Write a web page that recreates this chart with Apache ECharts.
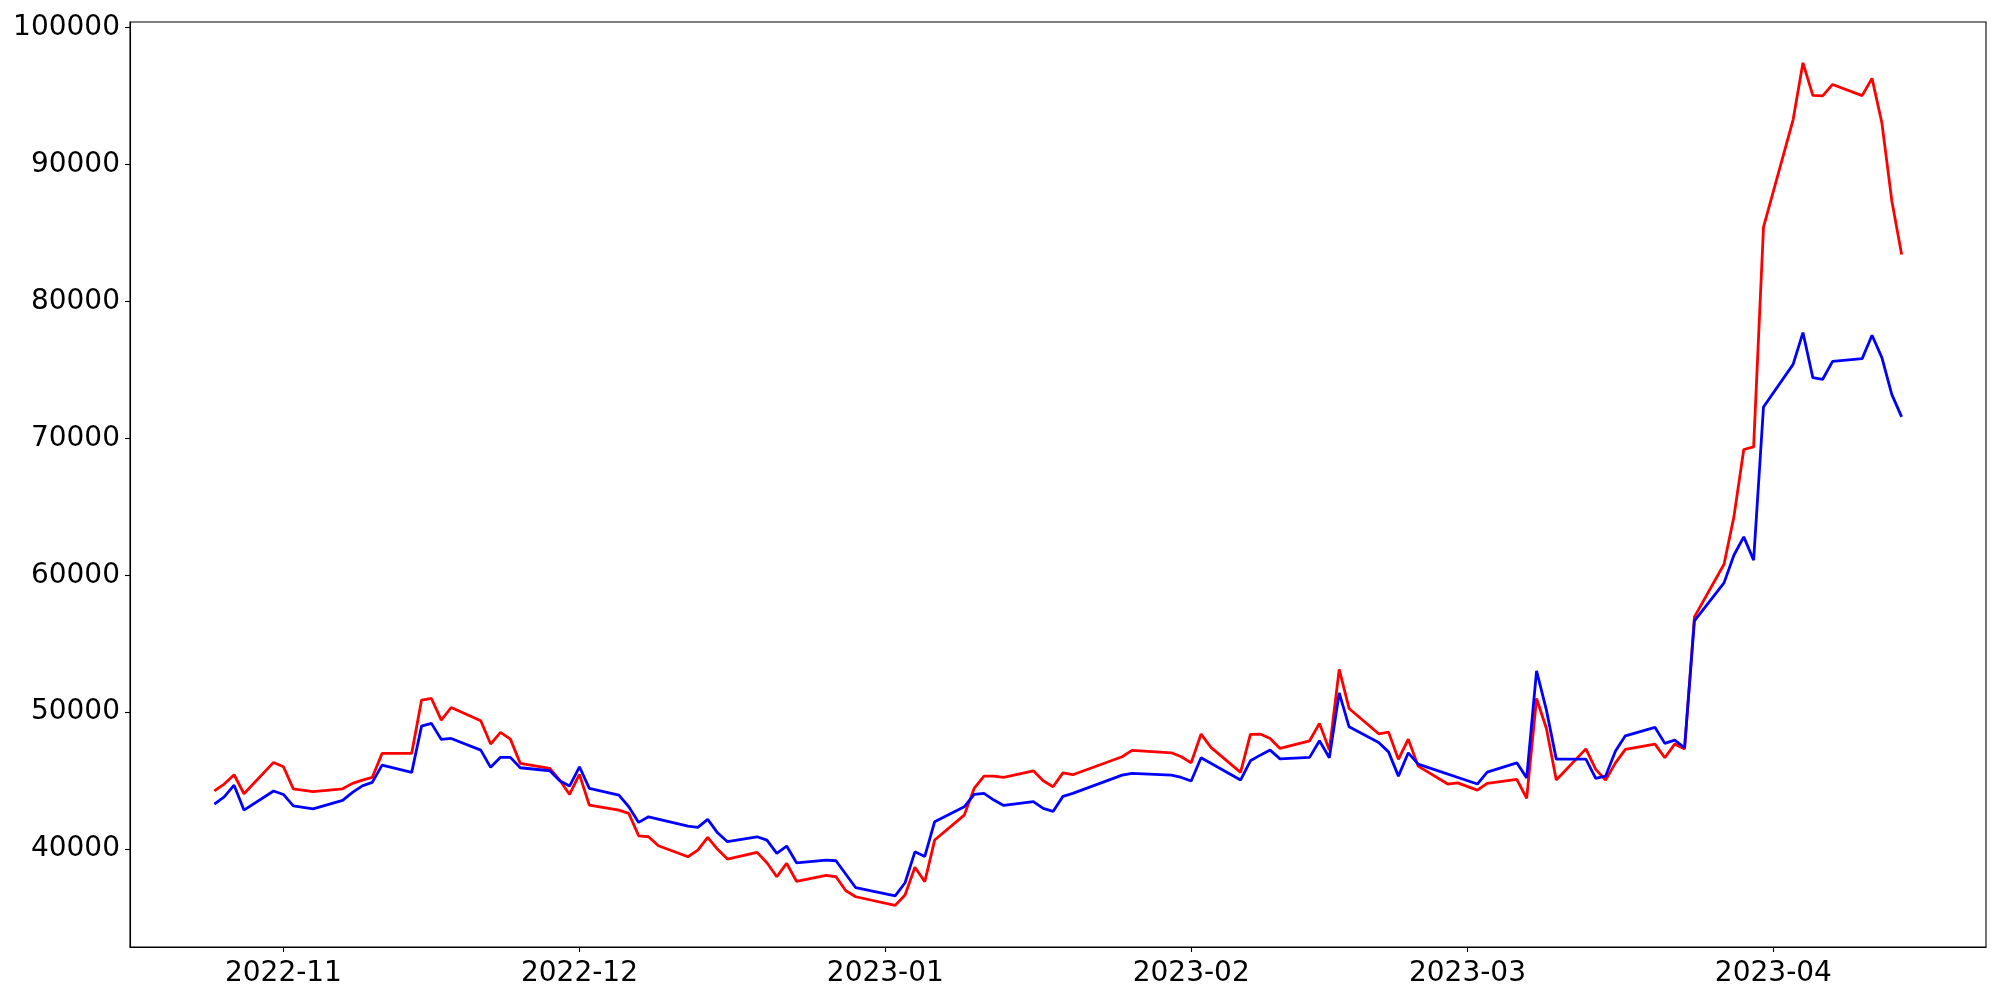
<!DOCTYPE html>
<html>
<head>
<meta charset="utf-8">
<script src="https://cdn.jsdelivr.net/npm/echarts@6/dist/echarts.min.js"></script>
<style>
html,body{margin:0;padding:0;background:#fff;}
#chart{width:2000px;height:1000px;}
</style>
</head>
<body>
<div id="chart"></div>
<script>
const dates = [
'2022-10-25','2022-10-26','2022-10-27','2022-10-28','2022-10-31','2022-11-01','2022-11-02','2022-11-04',
'2022-11-07','2022-11-08','2022-11-09','2022-11-10','2022-11-11','2022-11-14','2022-11-15','2022-11-16',
'2022-11-17','2022-11-18','2022-11-21','2022-11-22','2022-11-23','2022-11-24','2022-11-25','2022-11-28',
'2022-11-29','2022-11-30','2022-12-01','2022-12-02','2022-12-05','2022-12-06','2022-12-07','2022-12-08',
'2022-12-09','2022-12-12','2022-12-13','2022-12-14','2022-12-15','2022-12-16','2022-12-19','2022-12-20',
'2022-12-21','2022-12-22','2022-12-23','2022-12-26','2022-12-27','2022-12-28','2022-12-29','2023-01-02',
'2023-01-03','2023-01-04','2023-01-05','2023-01-06','2023-01-09','2023-01-10','2023-01-11','2023-01-12',
'2023-01-13','2023-01-16','2023-01-17','2023-01-18','2023-01-19','2023-01-20','2023-01-25','2023-01-26',
'2023-01-30','2023-01-31','2023-02-01','2023-02-02','2023-02-03','2023-02-06','2023-02-07','2023-02-08',
'2023-02-09','2023-02-10','2023-02-13','2023-02-14','2023-02-15','2023-02-16','2023-02-17','2023-02-20',
'2023-02-21','2023-02-22','2023-02-23','2023-02-24','2023-02-27','2023-02-28','2023-03-02','2023-03-03',
'2023-03-06','2023-03-07','2023-03-08','2023-03-09','2023-03-10','2023-03-13','2023-03-14','2023-03-15',
'2023-03-16','2023-03-17','2023-03-20','2023-03-21','2023-03-22','2023-03-23','2023-03-24','2023-03-27',
'2023-03-28','2023-03-29','2023-03-30','2023-03-31','2023-04-03','2023-04-04','2023-04-05','2023-04-06',
'2023-04-07','2023-04-10','2023-04-11','2023-04-12','2023-04-13','2023-04-14'
];

const redValues = [
44250,44750,45430,44040,46330,46010,44400,44190,
44400,44800,45040,45230,46990,46990,50880,51000,
49420,50340,49370,47670,48520,48030,46260,45890,
45040,43990,45450,43210,42850,42610,40970,40900,
40240,39440,39930,40860,39980,39270,39760,39000,
37980,38960,37650,38080,37980,36960,36520,35890,
36650,38670,37620,40660,42480,44430,45330,45330,
45230,45720,44990,44550,45570,45430,46740,47210,
47030,46740,46300,48400,47430,45600,48370,48400,
48080,47350,47910,49180,47230,53120,50270,48420,
48540,46550,48030,46060,44750,44840,44310,44800,
45090,43700,51000,48810,45040,47320,45820,45040,
46300,47280,47670,46670,47670,47300,56960,60800,
64260,69180,69370,85420,93260,97420,95040,95000,
95840,95020,96280,93020,87370,83430
];

const blueValues = [
43290,43820,44670,42850,44240,43990,43160,42940,
43560,44140,44620,44870,46130,45600,48980,49180,
48010,48080,47230,45970,46700,46700,45940,45720,
44990,44600,46010,44430,43940,43090,41950,42360,
null,41680,41580,42170,41190,40540,40900,40660,
39690,40220,39000,39200,39150,null,37180,36590,
37540,39800,39460,42000,43090,43990,44070,43580,
43190,43460,42970,42750,43850,44070,45400,45530,
45400,45230,44970,46670,null,45040,46450,46860,
47230,46590,46700,47910,46670,51410,48930,47790,
47100,45330,47030,46210,null,null,44750,45620,
46300,45200,53020,50150,46570,46570,45160,45330,
47160,48270,48890,47720,47960,47400,56670,59440,
61460,62800,61100,72290,75400,77720,74430,74310,
75620,75820,77520,75890,73210,71560
];

const yTicks = [40000,50000,60000,70000,80000,90000,100000];
const xTickDates = ['2022-11-01','2022-12-01','2023-01-01','2023-02-01','2023-03-01','2023-04-01'];

function ts(s){ const p=s.split('-').map(Number); return Date.UTC(p[0],p[1]-1,p[2]); }
const xs = dates.map(ts);
const span = xs[xs.length-1]-xs[0];
const xMin = xs[0]-span*0.05, xMax = xs[xs.length-1]+span*0.05;

const font = 'DejaVu Sans';
const chart = echarts.init(document.getElementById('chart'), null, {renderer:'canvas'});
chart.setOption({
  animation:false,
  backgroundColor:'#fff',
  grid:{left:130,right:14,top:22,bottom:53,show:true,borderColor:'#000',borderWidth:1.1,backgroundColor:'transparent'},
  xAxis:{
    type:'value', min:xMin, max:xMax, scale:true,
    axisLine:{show:true,onZero:false,lineStyle:{color:'#000',width:1.1}},
    axisTick:{show:true,length:5,lineStyle:{color:'#000',width:1.1},customValues:xTickDates.map(ts)},
    axisLabel:{color:'#000',fontSize:28,fontFamily:font,margin:13,customValues:xTickDates.map(ts),
      formatter:function(v){const d=new Date(v);return d.getUTCFullYear()+'-'+String(d.getUTCMonth()+1).padStart(2,'0');}},
    splitLine:{show:false}
  },
  yAxis:{
    type:'value', min:32850, max:100400, scale:true,
    axisLine:{show:true,onZero:false,lineStyle:{color:'#000',width:1.1}},
    axisTick:{show:true,length:5,lineStyle:{color:'#000',width:1.1},customValues:yTicks},
    axisLabel:{color:'#000',fontSize:28,fontFamily:font,margin:10,customValues:yTicks,formatter:function(v){return String(v);}},
    splitLine:{show:false}
  },
  series:[
    {type:'line',data:xs.map((x,i)=>[x,redValues[i]]),showSymbol:false,connectNulls:true,
     lineStyle:{color:'#ff0000',width:2.8},itemStyle:{color:'#ff0000'}},
    {type:'line',data:xs.map((x,i)=>[x,blueValues[i]]),showSymbol:false,connectNulls:true,
     lineStyle:{color:'#0000ff',width:2.8},itemStyle:{color:'#0000ff'}}
  ]
});
</script>
</body>
</html>
